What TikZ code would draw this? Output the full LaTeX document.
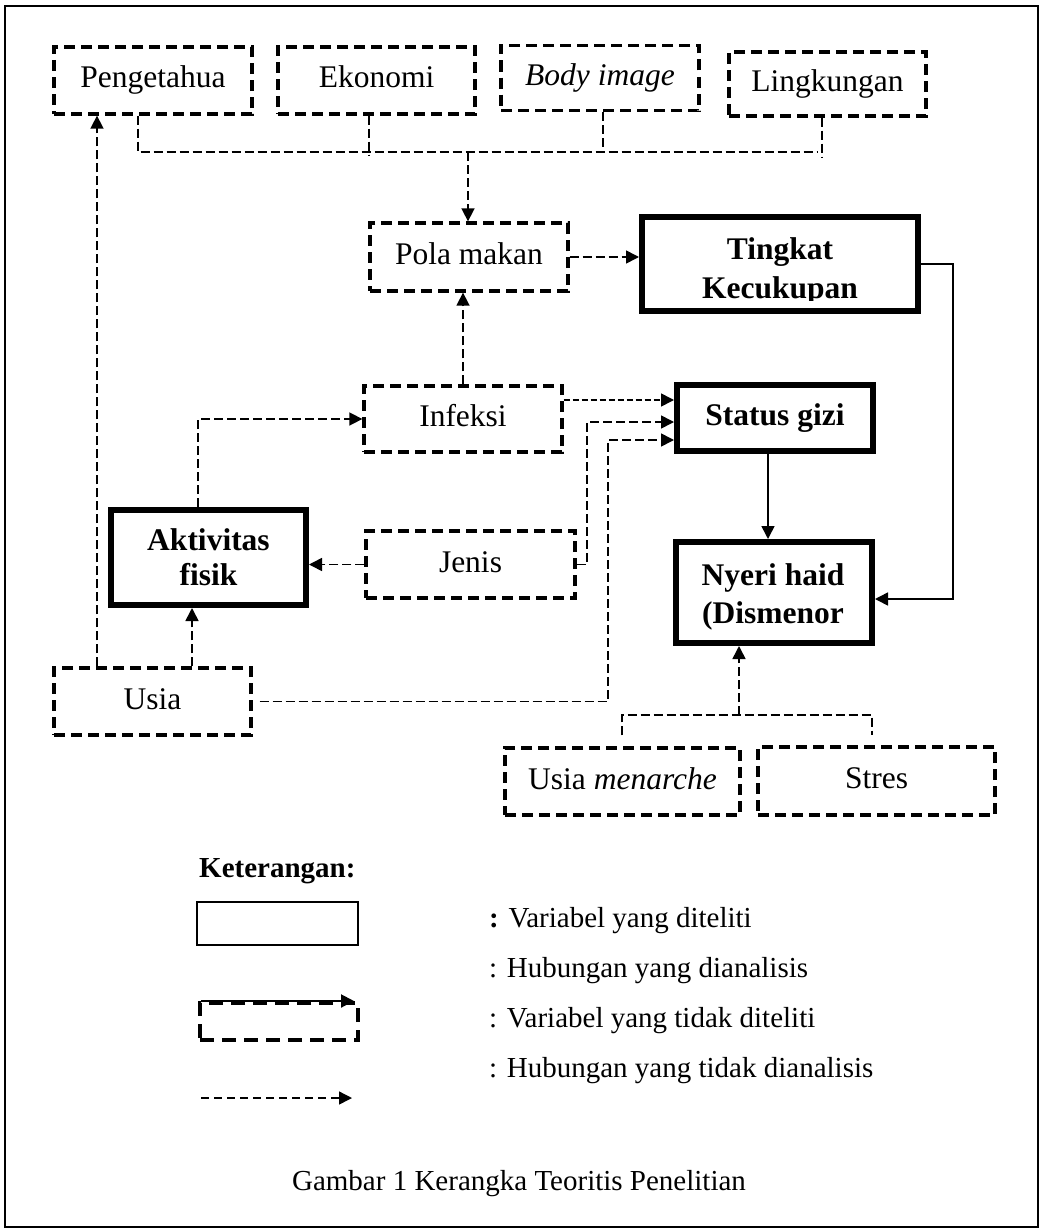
\documentclass[tikz,border=0pt]{standalone}
\usepackage{fontspec}
\setmainfont{Liberation Serif}
\usetikzlibrary{arrows.meta,calc}
\begin{document}
\begin{tikzpicture}[x=1pt,y=-1pt,
  tri/.style={-{Triangle[length=13pt,width=13pt]}},
  dbox/.style={draw, line width=3.3pt, dash pattern=on 11pt off 6pt, inner sep=0pt,
    text height=22pt, text depth=7pt, font=\fontsize{31.5}{38}\selectfont},
  bbox/.style={draw, line width=6pt, inner sep=0pt, align=center, font=\fontsize{31.5}{38}\selectfont\bfseries},
  btxt/.style={inner sep=0pt, align=center, font=\fontsize{31.5}{38}\selectfont\bfseries},
  dconn/.style={line width=1.6pt, dash pattern=on 9pt off 4pt},
  sdconn/.style={line width=1.6pt, dash pattern=on 6pt off 3pt},
  sconn/.style={line width=1.6pt},
  legtxt/.style={anchor=base west, inner sep=0pt, font=\fontsize{29}{34}\selectfont},
]
\useasboundingbox (0,0) rectangle (1043,1231);
\draw[line width=1.8pt] (5,6) rectangle (1038,1227);

% top row
\node[dbox, minimum width=198pt, minimum height=67pt] (peng) at (153,80.5) {Pengetahua};
\node[dbox, minimum width=197pt, minimum height=67pt] (eko) at (376.5,80.5) {Ekonomi};
\node[dbox, minimum width=198pt, minimum height=65pt] (body) at (600,78) {\itshape Body image};
\node[dbox, minimum width=197pt, minimum height=64pt] (ling) at (827.5,84) {Lingkungan};

% middle
\node[dbox, minimum width=198pt, minimum height=68pt] (pola) at (469,257) {Pola makan};
\node[bbox, minimum width=276pt, minimum height=94pt] (tingkat) at (780,264) {};
\begin{scope}
  \clip (640,215) rectangle (920,300);
  \node[btxt, font=\fontsize{31.5}{39}\selectfont\bfseries] (tingkatT) at (780,271) {Tingkat\\Kecukupan};
\end{scope}
\node[dbox, minimum width=198pt, minimum height=66pt] (infeksi) at (463,419) {Infeksi};
\node[bbox, minimum width=196pt, minimum height=66pt] (status) at (775,418) {Status gizi};
\node[bbox, minimum width=195pt, minimum height=95pt, font=\fontsize{31.5}{35}\selectfont\bfseries] (aktiv) at (208.5,557.5) {Aktivitas\\fisik};
\node[dbox, minimum width=209pt, minimum height=67pt] (jenis) at (470.5,564.5) {Jenis};
\node[bbox, minimum width=196pt, minimum height=101pt] (nyeri) at (774,592.5) {};
\node[btxt] (nyeriT) at (773,596.5) {Nyeri haid\\(Dismenor};
\node[dbox, minimum width=197pt, minimum height=67pt] (usia) at (152.5,701.5) {Usia};
\node[dbox, minimum width=235pt, minimum height=67pt] (menarche) at (622.5,781.5) {Usia \textit{menarche}};
\node[dbox, minimum width=237pt, minimum height=68pt] (stres) at (876.5,781) {Stres};

% coordinates
\coordinate (bL) at (138,152);
\coordinate (bRend) at (818,152);
\coordinate (bR) at (822,157);
\coordinate (bE) at (369,155);
\coordinate (bB) at (603,152);
\coordinate (bM) at (468,152);
\coordinate (uP) at (97,0);
\coordinate (tR1) at (953,264);
\coordinate (tR2) at (953,599);
\coordinate (aI) at (198,419);
\coordinate (iS) at (562,400);
\coordinate (jS1) at (587,564.5);
\coordinate (jS2) at (587,422);
\coordinate (uA) at (192,0);
\coordinate (uS1) at (608,701.5);
\coordinate (uS2) at (608,440);
\coordinate (sN) at (768,0);
\coordinate (mB) at (622,715);
\coordinate (sB) at (872,715);
\coordinate (nB) at (739,715);

% top bus
\draw[dconn] (peng.south -| bL) -- (bL) -- (bRend);
\draw[dconn] (eko.south -| bE) -- (bE);
\draw[dconn] (body.south -| bB) -- (bB);
\draw[dconn] (ling.south -| bR) -- (bR);
\draw[dconn,tri] (bM) -- (pola.north -| bM);

% connectors
\draw[dconn,tri] (usia.north -| uP) -- (peng.south -| uP);
\draw[dconn,tri] (pola.east) -- (pola.east -| tingkat.west);
\draw[sconn,tri] (tingkat.east) -- (tR1) -- (tR2) -- (tR2 -| nyeri.east);
\draw[dconn,tri] (infeksi.north) -- (infeksi.north |- pola.south);
\draw[dconn,tri] (aktiv.north -| aI) -- (aI) -- (infeksi.west);
\draw[sdconn,tri] (infeksi.east |- iS) -- (iS -| status.west);
\draw[dconn,tri] (jenis.west) -- (jenis.west -| aktiv.east);
\draw[dconn,tri] (jenis.east) -- (jS1) -- (jS2) -- (jS2 -| status.west);
\draw[dconn,tri] (usia.north -| uA) -- (aktiv.south -| uA);
\draw[dconn,tri,shorten <=7pt] (usia.east) -- (uS1) -- (uS2) -- (uS2 -| status.west);
\draw[sconn,tri] (status.south -| sN) -- (nyeri.north -| sN);
\draw[dconn, shorten <=11pt, shorten >=10pt] (menarche.north -| mB) -- (mB) -- (sB) -- (stres.north -| sB);
\draw[dconn,tri] (nB) -- (nyeri.south -| nB);

% legend
\node[anchor=base west, inner sep=0pt, font=\fontsize{29}{34}\selectfont\bfseries] (ket) at (199,877) {Keterangan:};
\node[draw, line width=2.2pt, minimum width=161pt, minimum height=43pt, inner sep=0pt] (legS) at (277.5,923.5) {};
\node[legtxt] (t1) at (489,927) {\textbf{:} Variabel yang diteliti};
\node[legtxt] (t2) at (489,977) {: Hubungan yang dianalisis};
\node[legtxt] (t3) at (489,1027) {: Variabel yang tidak diteliti};
\node[legtxt] (t4) at (489,1077) {: Hubungan yang tidak dianalisis};
\node[draw, line width=3.3pt, dash pattern=on 14pt off 8pt, minimum width=158pt, minimum height=37pt, inner sep=0pt] (legD) at (279,1021.5) {};
\coordinate (la1) at (201,1001);
\coordinate (la2) at (354,1001);
\draw[line width=2pt,tri] (la1) -- (la2);
\coordinate (la3) at (201,1098);
\coordinate (la4) at (352,1098);
\draw[line width=1.4pt, dash pattern=on 8pt off 5pt, tri] (la3) -- (la4);

\node[anchor=base, inner sep=0pt, font=\fontsize{29}{34}\selectfont] (cap) at (519,1190) {Gambar 1 Kerangka Teoritis Penelitian};
\end{tikzpicture}
\end{document}
